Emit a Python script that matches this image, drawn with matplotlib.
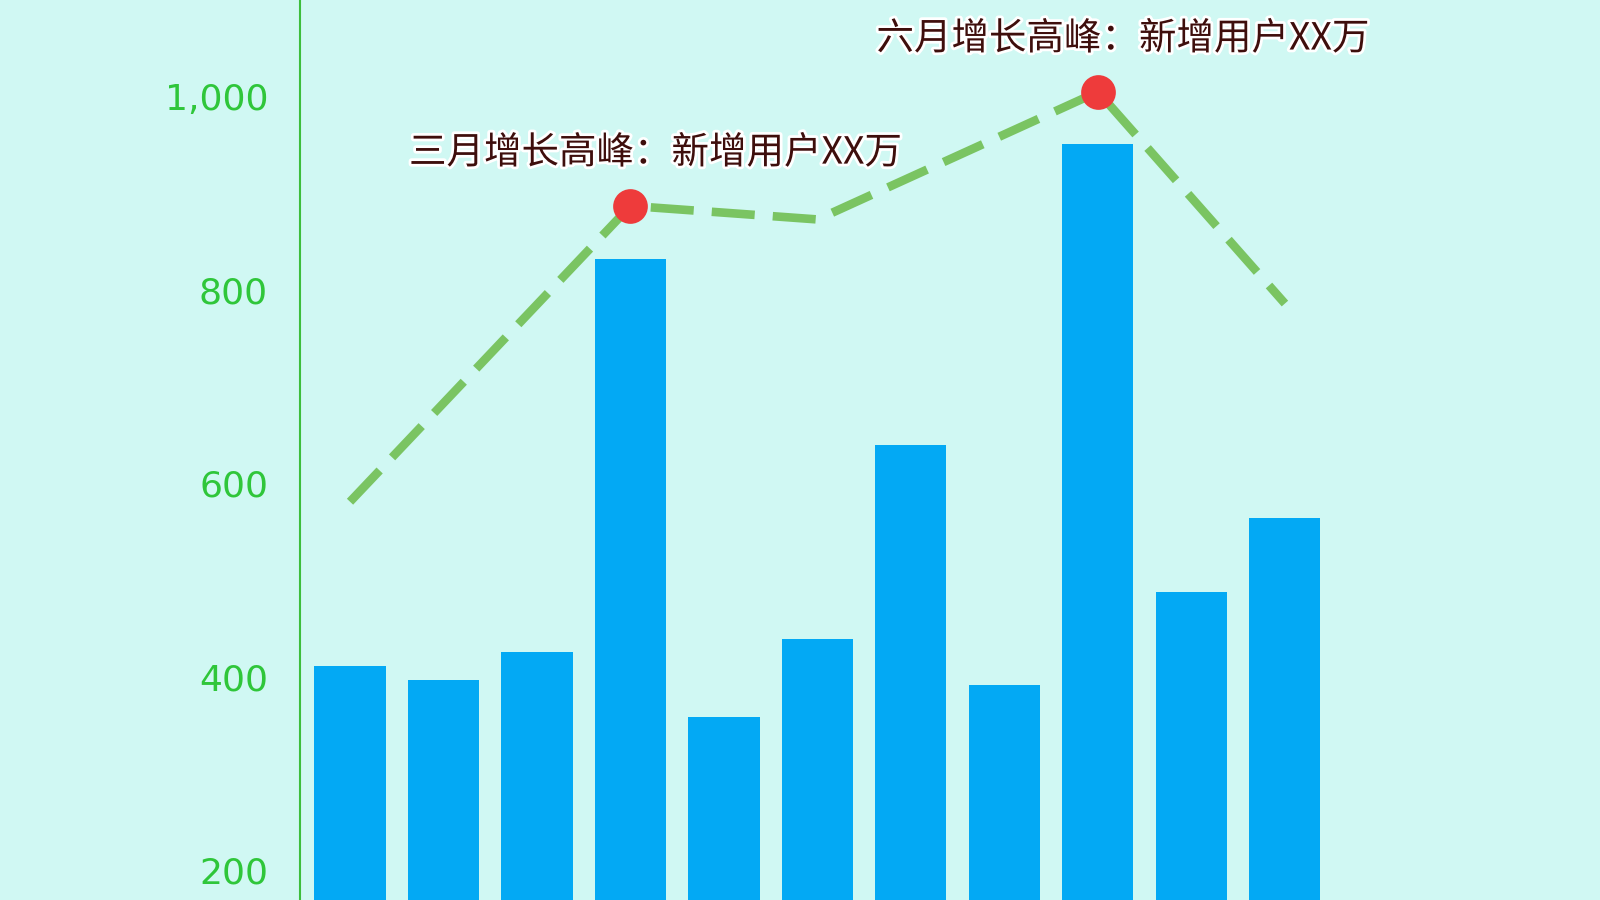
import numpy as np
import matplotlib
matplotlib.use("Agg")
import matplotlib.pyplot as plt
import matplotlib.patheffects as pe
from matplotlib.ticker import FuncFormatter

plt.rcParams['font.family'] = ['Noto Sans CJK SC', 'DejaVu Sans']

# 柱状数据（每月新增用户）
bar_values = [411, 397, 426, 832, 358, 439, 640, 391, 951, 488, 564]

# 折线数据（只在部分位置有点）
line_idx = [0, 3, 5, 8, 10]
line_values = [581, 887, 873, 1005, 786]

# 高峰标注
peak_idx = [3, 8]
peak_values = [887, 1005]
peak_labels = ["三月增长高峰：新增用户XX万", "六月增长高峰：新增用户XX万"]

y_ticks = [200, 400, 600, 800, 1000]

bg = "#D0F8F3"
fig = plt.figure(figsize=(16, 9), dpi=100, facecolor=bg)
ax = fig.add_axes([0.1875, 0.0, 0.8125, 1.0])
ax.set_facecolor(bg)

x = np.arange(len(bar_values))
ax.bar(x, bar_values, width=0.76, color="#03A9F4", zorder=2)

ax.plot(line_idx, line_values, color="#7AC462", linewidth=6.2,
        dashes=(5.0, 2.1), zorder=3)
ax.plot(peak_idx, peak_values, "o", color="#EE3B3B", markersize=25,
        markeredgewidth=0, zorder=4)

for px, py, txt in zip(peak_idx, peak_values, peak_labels):
    ax.annotate(txt, (px, py), xytext=(18, 38), textcoords="offset points",
                ha="center", va="center", fontsize=27, color="#3E0E0C",
                path_effects=[pe.withStroke(linewidth=4, foreground="white")],
                zorder=5)

ax.set_xlim(-0.535, 13.37)
ax.set_ylim(169, 1100)
ax.set_yticks(y_ticks)
ax.yaxis.set_major_formatter(FuncFormatter(lambda v, p: f"{int(v):,}"))
ax.tick_params(axis="y", length=0, pad=23, labelsize=26, labelcolor="#2FC63A")
for lab in ax.get_yticklabels():
    lab.set_family("DejaVu Sans")
ax.set_xticks([])

for s in ["top", "right", "bottom"]:
    ax.spines[s].set_visible(False)
ax.spines["left"].set_color("#3CBE3C")
ax.spines["left"].set_linewidth(1.5)

fig.savefig("out.png", dpi=100, facecolor=bg)
